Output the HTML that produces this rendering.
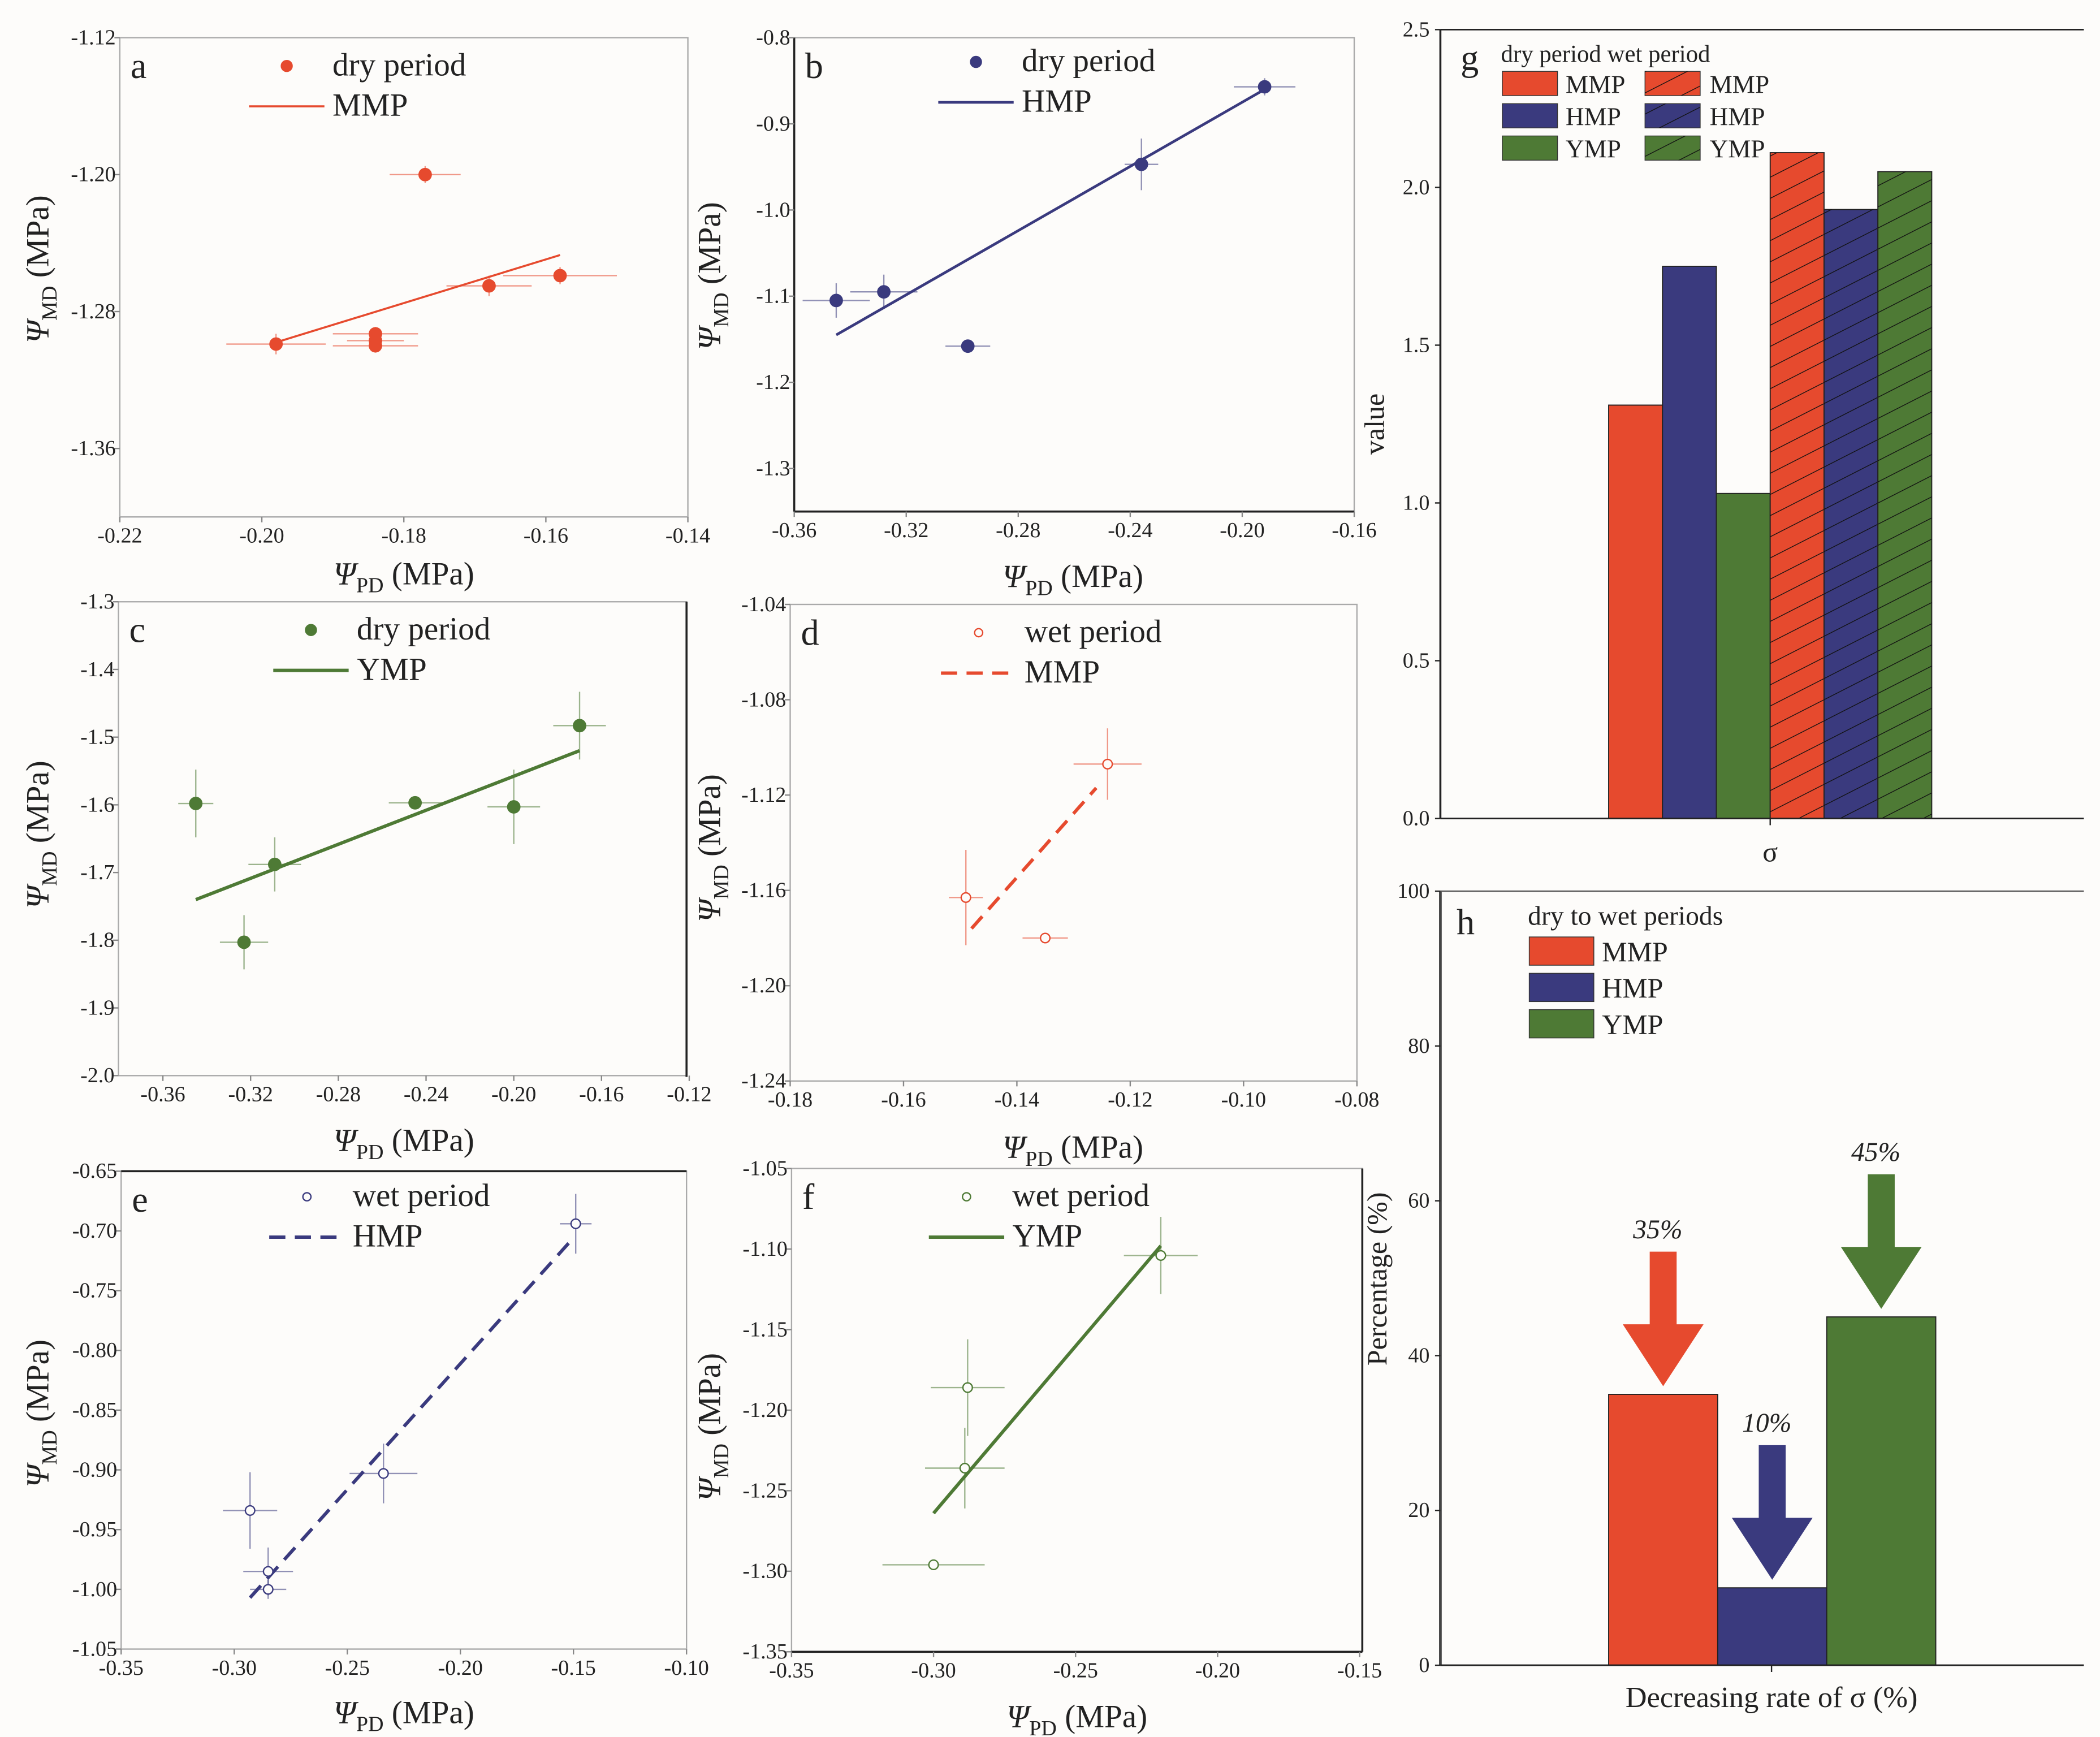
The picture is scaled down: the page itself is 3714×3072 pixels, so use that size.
<!DOCTYPE html>
<html><head><meta charset="utf-8"><style>
html,body{margin:0;padding:0;background:#fdfcfa;}
svg{display:block;}
svg text{font-family:"Liberation Serif","Times New Roman",serif;}
</style></head><body>
<svg id="fig" width="3714" height="3072" viewBox="0 0 1560 1290.3" preserveAspectRatio="none" xmlns="http://www.w3.org/2000/svg" font-family="Liberation Serif, serif">
<rect x="0" y="0" width="1560" height="1291" fill="#fdfcfa"/>
</svg>
<script>
// ---- data ----
const aX=[-0.198,-0.184,-0.184,-0.184,-0.177,-0.168,-0.158];
const aY=[-1.299,-1.293,-1.297,-1.300,-1.200,-1.265,-1.259];
const aXe=[0.007,0.006,0.004,0.006,0.005,0.006,0.008];
const aYe=[0.006,0.004,0.004,0.004,0.005,0.006,0.005];
const aFit=[[-0.198,-1.298],[-0.158,-1.247]];
const aXt=[-0.22,-0.20,-0.18,-0.16,-0.14];
const aYt=[-1.12,-1.20,-1.28,-1.36];

const bX=[-0.345,-0.328,-0.298,-0.236,-0.192];
const bY=[-1.105,-1.095,-1.158,-0.947,-0.857];
const bXe=[0.012,0.012,0.008,0.006,0.011];
const bYe=[0.02,0.02,0.003,0.03,0.01];
const bFit=[[-0.345,-1.145],[-0.192,-0.86]];
const bXt=[-0.36,-0.32,-0.28,-0.24,-0.20,-0.16];
const bYt=[-0.8,-0.9,-1.0,-1.1,-1.2,-1.3];

const cX=[-0.345,-0.323,-0.309,-0.245,-0.200,-0.170];
const cY=[-1.598,-1.803,-1.688,-1.597,-1.603,-1.483];
const cXe=[0.008,0.011,0.012,0.012,0.012,0.012];
const cYe=[0.05,0.04,0.04,0.005,0.055,0.05];
const cFit=[[-0.345,-1.74],[-0.170,-1.52]];
const cXt=[-0.36,-0.32,-0.28,-0.24,-0.20,-0.16,-0.12];
const cYt=[-1.3,-1.4,-1.5,-1.6,-1.7,-1.8,-1.9,-2.0];

const dX=[-0.149,-0.135,-0.124];
const dY=[-1.163,-1.180,-1.107];
const dXe=[0.003,0.004,0.006];
const dYe=[0.02,0.001,0.015];
const dFit=[[-0.148,-1.176],[-0.126,-1.117]];
const dXt=[-0.18,-0.16,-0.14,-0.12,-0.10,-0.08];
const dYt=[-1.04,-1.08,-1.12,-1.16,-1.20,-1.24];

const eX=[-0.293,-0.285,-0.285,-0.234,-0.149];
const eY=[-0.934,-0.985,-1.000,-0.903,-0.694];
const eXe=[0.012,0.011,0.008,0.015,0.007];
const eYe=[0.032,0.02,0.008,0.025,0.025];
const eFit=[[-0.293,-1.007],[-0.152,-0.710]];
const eXt=[-0.35,-0.30,-0.25,-0.20,-0.15,-0.10];
const eYt=[-0.65,-0.70,-0.75,-0.80,-0.85,-0.90,-0.95,-1.00,-1.05];

const fX=[-0.300,-0.288,-0.289,-0.220];
const fY=[-1.296,-1.186,-1.236,-1.104];
const fXe=[0.018,0.013,0.014,0.013];
const fYe=[0.001,0.03,0.025,0.024];
const fFit=[[-0.300,-1.264],[-0.220,-1.098]];
const fXt=[-0.35,-0.30,-0.25,-0.20,-0.15];
const fYt=[-1.05,-1.10,-1.15,-1.20,-1.25,-1.30,-1.35];

const gCats=["MMP","HMP","YMP"];
const gDry=[1.31,1.75,1.03];
const gWet=[2.11,1.93,2.05];
const gYt=[0.0,0.5,1.0,1.5,2.0,2.5];

const hCats=["MMP","HMP","YMP"];
const hVals=[35,10,45];
const hLabels=["35%","10%","45%"];
const hYt=[0,20,40,60,80,100];

// ---- drawing ----
const NS="http://www.w3.org/2000/svg";
const svg=document.getElementById('fig');
const RED="#e64a2e",NAVY="#3a3a7e",GREEN="#4e7a35";
const FF="Liberation Serif, Times New Roman, serif";
function el(tag,attrs,parent){const e=document.createElementNS(NS,tag);for(const k in attrs)e.setAttribute(k,attrs[k]);(parent||svg).appendChild(e);return e;}
function txt(s,attrs,parent){attrs['font-family']=FF;const t=el('text',attrs,parent);t.textContent=s;return t;}
const defs=el('defs',{});
const pat=el('pattern',{id:'hatch',width:14,height:14,patternUnits:'userSpaceOnUse',patternTransform:'rotate(-27)'},defs);
el('line',{x1:0,y1:0,x2:14,y2:0,stroke:'#111','stroke-width':1.2},pat);

function scatterPanel(P){
  const g=el('g',{});
  
  
  const sx=v=>P.px0+(v-P.x0)/(P.x1-P.x0)*(P.px1-P.px0);
  const sy=v=>P.py0+(v-P.y0)/(P.y1-P.y0)*(P.py1-P.py0);
  const L=P.left,R=P.right,T=P.top,B=P.bottom;
  el('rect',{x:L,y:T,width:R-L,height:B-T,fill:'none',stroke:'#aaa','stroke-width':1},g);
  (P.black||[]).forEach(s=>{
    const l=el('line',{x1:s[0],y1:s[1],x2:s[2],y2:s[3],stroke:'#222','stroke-width':1.5},g);
    
  });
  P.xt.forEach(v=>{
    el('line',{x1:sx(v),y1:B,x2:sx(v),y2:B+4,stroke:'#888'},g);
    const t=txt(v.toFixed(2),{x:sx(v),y:B+19,'font-size':16,'text-anchor':'middle',fill:'#222'},g);
    
  });
  P.yt.forEach(v=>{
    el('line',{x1:L-4,y1:sy(v),x2:L,y2:sy(v),stroke:'#888'},g);
    const t=txt(v.toFixed(P.yd),{x:L-3,y:sy(v)+5,'font-size':16,'text-anchor':'end',fill:'#222'},g);
    
  });
  P.X.forEach((x,i)=>{
    const y=P.Y[i];
    const eb=el('g',{stroke:P.col,'stroke-width':1,opacity:0.55},g);
    
    el('line',{x1:sx(x-P.Xe[i]),y1:sy(y),x2:sx(x+P.Xe[i]),y2:sy(y)},eb);
    el('line',{x1:sx(x),y1:sy(y-P.Ye[i]),x2:sx(x),y2:sy(y+P.Ye[i])},eb);
  });
  const fl=el('line',{x1:sx(P.fit[0][0]),y1:sy(P.fit[0][1]),x2:sx(P.fit[1][0]),y2:sy(P.fit[1][1]),stroke:P.col,'stroke-width':P.lw,'stroke-dasharray':P.dash?'12,7':'none'},g);
  
  P.X.forEach((x,i)=>{
    const c=el('circle',{cx:sx(x),cy:sy(P.Y[i]),r:P.open?3.5:4.5,fill:P.open?'#fdfcfa':P.col,stroke:P.col,'stroke-width':1},g);
    
  });
  const lg=el('g',{},g);
  
  const lx=P.leg[0],ly=P.leg[1];
  el('circle',{cx:lx,cy:ly-7,r:P.open?3:4,fill:P.open?'#fdfcfa':P.col,stroke:P.col},lg);
  txt(P.open?'wet period':'dry period',{x:lx+34,y:ly,'font-size':24,fill:'#222'},lg);
  el('line',{x1:lx-28,y1:ly+23,x2:lx+28,y2:ly+23,stroke:P.col,'stroke-width':P.lw,'stroke-dasharray':P.dash?'12,7':'none'},lg);
  txt(P.name,{x:lx+34,y:ly+30,'font-size':24,fill:'#222'},lg);
  const pl=txt(P.id,{x:L+8,y:T+30,'font-size':27,fill:'#222'},g);
  
  const xt=el('text',{x:P.xtitle[0],y:P.xtitle[1],'font-size':24,'text-anchor':'middle',fill:'#222','font-family':FF},g);
  xt.innerHTML='<tspan font-style="italic">Ψ</tspan><tspan font-size="16" dy="6">PD</tspan><tspan dy="-6"> (MPa)</tspan>';
  
  const yt=el('text',{x:0,y:0,'font-size':24,'text-anchor':'middle',fill:'#222','font-family':FF,transform:`translate(${P.ytitle[0]},${P.ytitle[1]}) rotate(-90)`},g);
  yt.innerHTML='<tspan font-style="italic">Ψ</tspan><tspan font-size="16" dy="6">MD</tspan><tspan dy="-6"> (MPa)</tspan>';
  
}

scatterPanel({id:'a',X:aX,Y:aY,Xe:aXe,Ye:aYe,fit:aFit,xt:aXt,yt:aYt,yd:2,col:RED,lw:1.5,dash:false,open:false,name:'MMP',
  x0:-0.22,x1:-0.14,px0:89,px1:511,y0:-1.12,y1:-1.40,py0:28,py1:384,left:89,right:511,top:28,bottom:384,
  leg:[213,56],xtitle:[300,434],ytitle:[36,200]});
scatterPanel({id:'b',X:bX,Y:bY,Xe:bXe,Ye:bYe,fit:bFit,xt:bXt,yt:bYt,yd:1,col:NAVY,lw:2,dash:false,open:false,name:'HMP',
  x0:-0.36,x1:-0.16,px0:590,px1:1006,y0:-0.8,y1:-1.3,py0:28,py1:348,left:590,right:1006,top:28,bottom:380,
  leg:[725,53],xtitle:[797,436],ytitle:[535,205],black:[[590,28,590,380],[590,380,1006,380]]});
scatterPanel({id:'c',X:cX,Y:cY,Xe:cXe,Ye:cYe,fit:cFit,xt:cXt,yt:cYt,yd:1,col:GREEN,lw:2.5,dash:false,open:false,name:'YMP',
  x0:-0.36,x1:-0.12,px0:121,px1:512,y0:-1.3,y1:-2.0,py0:447,py1:799,left:88,right:510,top:447,bottom:799,
  leg:[231,475],xtitle:[300,855],ytitle:[36,620],black:[[510,447,510,800]]});
scatterPanel({id:'d',X:dX,Y:dY,Xe:dXe,Ye:dYe,fit:dFit,xt:dXt,yt:dYt,yd:2,col:RED,lw:2.5,dash:true,open:true,name:'MMP',
  x0:-0.18,x1:-0.08,px0:587,px1:1008,y0:-1.04,y1:-1.24,py0:449,py1:803,left:587,right:1008,top:449,bottom:803,
  leg:[727,477],xtitle:[797,860],ytitle:[535,630]});
scatterPanel({id:'e',X:eX,Y:eY,Xe:eXe,Ye:eYe,fit:eFit,xt:eXt,yt:eYt,yd:2,col:NAVY,lw:2.5,dash:true,open:true,name:'HMP',
  x0:-0.35,x1:-0.10,px0:90,px1:510,y0:-0.65,y1:-1.05,py0:870,py1:1225,left:90,right:510,top:870,bottom:1225,
  leg:[228,896],xtitle:[300,1280],ytitle:[36,1050],black:[[90,870,510,870]]});
scatterPanel({id:'f',X:fX,Y:fY,Xe:fXe,Ye:fYe,fit:fFit,xt:fXt,yt:fYt,yd:2,col:GREEN,lw:2.5,dash:false,open:true,name:'YMP',
  x0:-0.35,x1:-0.15,px0:588,px1:1010,y0:-1.05,y1:-1.35,py0:868,py1:1227,left:588,right:1012,top:868,bottom:1227,
  leg:[718,896],xtitle:[800,1283],ytitle:[535,1060],black:[[588,1227,1012,1227],[1012,868,1012,1227]]});

// ---- panel g ----
(function(){
  const g=el('g',{});
  const L=1070,R=1548,T=22,B=608;const sy=v=>B-(v/2.5)*(B-T);
  const cols=[RED,NAVY,GREEN];const bw=40,cx=1315;
  gDry.forEach((v,i)=>{const x=cx-3*bw+i*bw;
    const r=el('rect',{x:x,y:sy(v),width:bw,height:B-sy(v),fill:cols[i],stroke:'#222','stroke-width':0.8},g);
    });
  gWet.forEach((v,i)=>{const x=cx+i*bw;
    const r=el('rect',{x:x,y:sy(v),width:bw,height:B-sy(v),fill:cols[i],stroke:'#222','stroke-width':0.8},g);
    
    el('rect',{x:x,y:sy(v),width:bw,height:B-sy(v),fill:'url(#hatch)'},g);});
  el('line',{x1:L,y1:T,x2:L,y2:B,stroke:'#222','stroke-width':1.5},g);
  el('line',{x1:L,y1:B,x2:R,y2:B,stroke:'#222','stroke-width':1.2},g);
  el('line',{x1:L,y1:T,x2:R,y2:T,stroke:'#222','stroke-width':1.2},g);
  el('line',{x1:cx,y1:B,x2:cx,y2:B+5,stroke:'#222'},g);
  gYt.forEach(v=>{el('line',{x1:L-4,y1:sy(v),x2:L,y2:sy(v),stroke:'#222'},g);
    const t=txt(v.toFixed(1),{x:L-8,y:sy(v)+5,'font-size':16,'text-anchor':'end',fill:'#222'},g);
    });
  txt('σ',{x:cx,y:640,'font-size':21,'text-anchor':'middle',fill:'#222'},g);
  const yl=txt('value',{x:0,y:0,'font-size':21,'text-anchor':'middle',fill:'#222',transform:'translate(1028,315) rotate(-90)'},g);
  
  txt('g',{x:1085,y:52,'font-size':27,fill:'#222'},g);
  const lg=el('g',{},g);
  txt('dry period  wet period',{x:1115,y:46,'font-size':18,fill:'#222','xml:space':'preserve'},lg);
  gCats.forEach((c,i)=>{const y=53+i*24;
    el('rect',{x:1116,y:y,width:41,height:18,fill:cols[i],stroke:'#333','stroke-width':0.6},lg);
    txt(c,{x:1163,y:y+16,'font-size':19,fill:'#222'},lg);
    el('rect',{x:1222,y:y,width:41,height:18,fill:cols[i],stroke:'#333','stroke-width':0.6},lg);
    el('rect',{x:1222,y:y,width:41,height:18,fill:'url(#hatch)'},lg);
    txt(c,{x:1270,y:y+16,'font-size':19,fill:'#222'},lg);});
})();

// ---- panel h ----
(function(){
  const g=el('g',{});
  const L=1070,R=1548,T=662,B=1237;const sy=v=>B-(v/100)*(B-T);
  const cols=[RED,NAVY,GREEN];const bw=81,x0=1195;
  hVals.forEach((v,i)=>{const x=x0+i*bw;
    const r=el('rect',{x:x,y:sy(v),width:bw,height:B-sy(v),fill:cols[i],stroke:'#222','stroke-width':0.8},g);
    
    const ax=x+bw/2,tip=sy(v)-6;
    const a=el('polygon',{points:`${ax-10},${tip-100} ${ax+10},${tip-100} ${ax+10},${tip-46} ${ax+30},${tip-46} ${ax},${tip} ${ax-30},${tip-46} ${ax-10},${tip-46}`,fill:cols[i]},g);
    
    const t=txt(hLabels[i],{x:ax-4,y:tip-110,'font-size':20,'font-style':'italic','text-anchor':'middle',fill:'#222'},g);
    });
  el('line',{x1:L,y1:T,x2:L,y2:B,stroke:'#444','stroke-width':2},g);
  el('line',{x1:L,y1:B,x2:R,y2:B,stroke:'#222','stroke-width':1.2},g);
  el('line',{x1:L,y1:T,x2:R,y2:T,stroke:'#555','stroke-width':1},g);
  el('line',{x1:1316,y1:B,x2:1316,y2:B+5,stroke:'#222'},g);
  hYt.forEach(v=>{el('line',{x1:L-4,y1:sy(v),x2:L,y2:sy(v),stroke:'#222'},g);
    const t=txt(String(v),{x:L-8,y:sy(v)+5,'font-size':16,'text-anchor':'end',fill:'#222'},g);
    });
  const xt=txt('Decreasing rate of σ (%)',{x:1316,y:1268,'font-size':22,'text-anchor':'middle',fill:'#222'},g);
  
  const yl=txt('Percentage (%)',{x:0,y:0,'font-size':21,'text-anchor':'middle',fill:'#222',transform:'translate(1030,950) rotate(-90)'},g);
  
  txt('h',{x:1082,y:694,'font-size':27,fill:'#222'},g);
  const lg=el('g',{},g);
  txt('dry to wet periods',{x:1135,y:687,'font-size':20,fill:'#222'},lg);
  hCats.forEach((c,i)=>{const y=696+i*27;
    el('rect',{x:1136,y:y,width:48,height:21,fill:cols[i],stroke:'#333','stroke-width':0.6},lg);
    txt(c,{x:1190,y:y+18,'font-size':21,fill:'#222'},lg);});
})();
</script>
</body></html>
